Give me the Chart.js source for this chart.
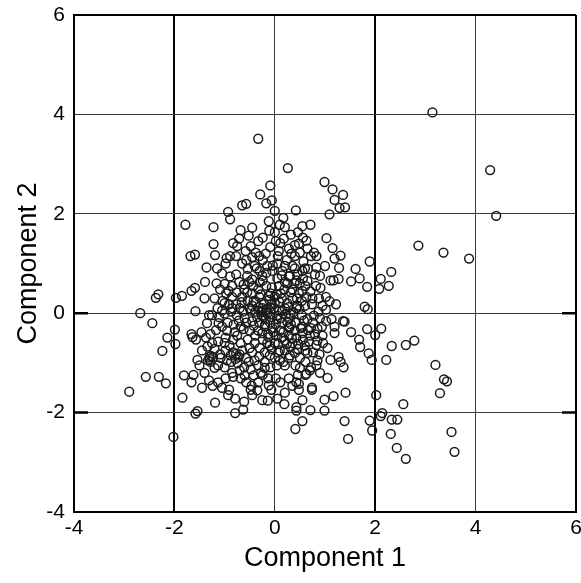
<!DOCTYPE html>
<html>
<head>
<meta charset="utf-8">
<script src="https://cdn.jsdelivr.net/npm/chart.js@4.4.1/dist/chart.umd.min.js"></script>
<style>
  html, body { margin: 0; padding: 0; background: #ffffff; }
  #wrap { width: 581px; height: 583px; overflow: hidden; }
</style>
</head>
<body>
<div id="wrap"><canvas id="scoreChart" width="595" height="583"></canvas></div>
<script>
// Axis settings
const xTicks = [-4, -2, 0, 2, 4, 6];
const yTicks = [-4, -2, 0, 2, 4, 6];
const xTitle = 'Component 1';
const yTitle = 'Component 2';

// Scores on the edge of the cloud [component 1, component 2]
const outerScores = [
    [3.14, 4.04], [-0.33, 3.51], [0.26, 2.92], [4.29, 2.88], [4.41, 1.96], [2.86, 1.36], [3.36, 1.22], [3.87, 1.10],
    [3.20, -1.04], [3.37, -1.33], [3.43, -1.37], [3.29, -1.61], [3.52, -2.39], [3.58, -2.79], [2.61, -2.93], [2.43, -2.71],
    [2.31, -2.43], [2.33, -2.14], [2.44, -2.14], [2.56, -1.83], [2.14, -2.01], [2.11, -2.07], [1.89, -2.16], [1.94, -2.36],
    [2.02, -1.65], [1.46, -2.53], [1.39, -2.17], [1.41, -1.60], [1.17, -1.67], [0.99, -1.74], [0.99, -1.96], [0.71, -1.95],
    [0.55, -2.17], [0.41, -2.33], [0.43, -1.89], [0.43, -1.96], [0.19, -1.83], [0.05, -1.72], [-0.14, -1.76], [-0.07, -1.54],
    [-0.79, -2.01], [-0.63, -1.94], [-0.61, -1.78], [-0.79, -1.72], [-0.93, -1.65], [-1.19, -1.80], [-1.58, -2.02], [-1.54, -1.97],
    [-1.84, -1.70], [-2.02, -2.49], [-2.90, -1.58], [-2.57, -1.28], [-2.31, -1.28], [-2.17, -1.41], [-1.81, -1.25], [-1.66, -1.39],
    [-1.62, -1.24], [-2.24, -0.76], [-2.14, -0.49], [-1.98, -0.62], [-1.99, -0.33], [-2.44, -0.20], [-2.68, 0.00], [-2.37, 0.31],
    [-2.32, 0.38], [-1.97, 0.31], [-1.85, 0.35], [-1.78, 1.78], [-1.68, 1.15], [-1.59, 1.18], [-1.22, 1.73], [-1.22, 1.39],
    [-1.19, 1.17], [-1.36, 0.92], [-1.39, 0.63], [-1.59, 0.51], [-1.66, 0.45], [-1.58, 0.04], [-1.31, -0.04], [-1.66, -0.42],
    [-1.64, -0.48], [-1.54, -0.94], [-1.34, -0.67], [-1.23, -0.89], [-0.93, 2.04], [-0.89, 1.89], [-0.65, 2.17], [-0.57, 2.20],
    [-0.29, 2.39], [-0.09, 2.57], [-0.17, 2.21], [-0.06, 2.27], [0.00, 2.06], [0.17, 1.92], [0.42, 2.07], [0.71, 1.78],
    [0.99, 2.64], [1.15, 2.49], [1.36, 2.38], [1.19, 2.28], [1.40, 2.13], [1.29, 2.12], [1.09, 1.99], [1.03, 1.51],
    [1.15, 1.31], [1.31, 1.16], [1.19, 1.10], [1.28, 0.91], [1.61, 0.89], [1.69, 0.70], [1.52, 0.64], [1.27, 0.69],
    [1.17, 0.66], [1.11, 0.66], [1.89, 1.04], [1.84, 0.53], [2.11, 0.69], [2.32, 0.83], [2.27, 0.55], [2.08, 0.49],
    [1.79, 0.13], [1.85, 0.08], [1.84, -0.32], [2.12, -0.31], [2.00, -0.44], [1.52, -0.38], [1.68, -0.53], [1.70, -0.68],
    [1.87, -0.81], [1.93, -0.94], [2.22, -0.94], [2.33, -0.66], [2.61, -0.64], [2.78, -0.55], [1.39, -0.17], [1.36, -0.16],
    [1.19, -0.27], [1.19, -0.40], [1.11, -0.94], [1.27, -0.88], [1.31, -0.98], [1.37, -1.09], [0.89, -0.83], [0.83, -1.05],
    [0.70, -1.15], [0.74, -1.50], [0.74, -1.54], [0.43, -1.39], [0.48, -1.42], [0.48, -1.54], [0.63, -1.22]
];

// Scores in the upper half of the dense centre
const upperCoreScores = [
    [-0.68, 1.67], [-0.52, 1.56], [-0.33, 1.45], [-0.24, 1.52], [-0.11, 1.66], [0.00, 1.63], [0.11, 1.41], [0.20, 1.73],
    [0.32, 1.58], [0.40, 1.37], [0.46, 1.63], [0.56, 1.52], [0.63, 1.46], [0.28, 1.30], [-0.09, 1.33], [-0.24, 1.07],
    [-0.31, 1.15], [-0.45, 1.13], [-0.65, 1.00], [-0.77, 1.15], [-0.89, 1.15], [-0.96, 1.11], [-0.83, 1.41], [-0.71, 1.50],
    [-0.57, 1.07], [-0.40, 0.95], [-0.54, 0.89], [-0.17, 0.81], [-0.04, 0.96], [0.06, 1.15], [0.24, 1.07], [0.40, 1.15],
    [0.50, 1.22], [0.57, 1.04], [0.72, 1.15], [0.78, 1.22], [0.83, 1.15], [0.66, 0.89], [0.80, 0.78], [0.83, 0.92],
    [0.56, 0.70], [0.43, 0.66], [0.28, 0.74], [0.14, 0.76], [0.09, 0.55], [0.20, 0.63], [0.35, 0.48], [0.48, 0.40],
    [0.61, 0.55], [0.71, 0.44], [0.91, 0.51], [1.02, 0.33], [1.09, 0.24], [1.22, 0.18], [1.02, 0.07], [0.87, 0.03],
    [0.74, 0.18], [0.63, 0.33], [0.54, 0.25], [-0.77, 0.78], [-0.89, 0.74], [-1.00, 0.59], [-1.09, 0.48], [-0.97, 0.40],
    [-0.85, 0.33], [-0.71, 0.63], [-0.61, 0.48], [-0.51, 0.63], [-0.43, 0.55], [-0.33, 0.48], [-0.24, 0.66], [-0.17, 0.55],
    [-0.08, 0.40], [0.00, 0.33], [-0.31, 0.33], [-0.42, 0.25], [-0.54, 0.25], [-0.65, 0.33], [-0.77, 0.18], [-0.91, 0.18],
    [-1.04, 0.25], [-1.14, 0.10], [-0.87, 0.03], [-0.63, 0.03], [-0.50, 0.10], [-0.39, 0.03], [-0.24, 0.10], [-0.06, 0.18],
    [0.09, 0.22], [0.20, 0.10], [0.43, 0.10], [-0.25, 0.05], [-0.10, 0.12], [0.15, 0.05], [0.00, 0.20], [0.25, 0.20],
    [0.35, 0.30], [-0.45, 0.15], [-0.70, 0.10], [0.45, 0.15], [-0.12, 0.35], [0.12, 0.40], [-0.30, 0.62], [-0.45, 0.40],
    [0.30, 0.75], [0.50, 0.60], [0.60, 0.90], [0.40, 0.90], [0.95, 0.15], [-1.00, 0.20], [-1.20, 0.30], [-0.85, 0.55],
    [-0.55, 0.75], [-0.30, 0.85], [0.05, 0.70], [0.20, 0.95]
];

// Scores in the lower half of the dense centre
const lowerCoreScores = [
    [-1.25, -0.04], [-1.11, -0.08], [-1.00, -0.01], [-0.76, -0.04], [-0.15, -0.01], [0.31, -0.01], [0.54, -0.04], [0.65, -0.12],
    [0.76, -0.19], [0.85, -0.31], [0.94, -0.27], [1.02, -0.16], [1.13, -0.12], [0.80, -0.42], [0.66, -0.34], [0.54, -0.27],
    [0.41, -0.19], [0.28, -0.27], [0.14, -0.19], [0.04, -0.12], [-0.09, -0.19], [-0.20, -0.27], [-0.31, -0.19], [-0.45, -0.16],
    [-0.57, -0.19], [-0.68, -0.27], [-0.82, -0.23], [-0.94, -0.19], [-1.05, -0.27], [-1.17, -0.34], [-1.28, -0.42], [-1.37, -0.49],
    [-1.46, -0.38], [-1.57, -0.53], [-1.13, -0.57], [-0.98, -0.49], [-0.83, -0.53], [-0.68, -0.60], [-0.54, -0.53], [-0.39, -0.45],
    [-0.24, -0.53], [-0.13, -0.42], [0.02, -0.45], [0.14, -0.49], [0.28, -0.45], [0.43, -0.49], [0.56, -0.53], [0.68, -0.57],
    [0.83, -0.64], [0.96, -0.60], [0.76, -0.79], [0.61, -0.75], [0.46, -0.72], [0.31, -0.68], [0.20, -0.75], [0.07, -0.79],
    [-0.06, -0.72], [-0.20, -0.79], [-0.31, -0.87], [-0.45, -0.79], [-0.57, -0.90], [-0.70, -0.83], [-0.83, -0.79], [-0.98, -0.75],
    [-1.09, -0.83], [-1.20, -0.72], [-1.28, -0.98], [-1.13, -1.05], [-1.00, -1.09], [-0.87, -0.98], [-0.74, -1.01], [-0.61, -1.09],
    [-0.48, -1.13], [-0.33, -1.05], [-0.20, -0.98], [-0.09, -1.09], [0.04, -1.05], [0.17, -0.98], [0.28, -0.90], [0.41, -1.05],
    [0.50, -0.90], [0.61, -0.98], [0.72, -1.09], [0.61, -1.24], [0.46, -1.24], [0.28, -1.31], [0.11, -1.39], [0.02, -1.31],
    [-0.13, -1.31], [-0.24, -1.24], [-0.33, -1.39], [-0.46, -1.46], [-0.57, -1.39], [-0.68, -1.31], [-0.83, -1.28], [-0.98, -1.31],
    [-1.13, -1.39], [-1.24, -1.46], [-1.31, -1.35], [-1.05, -1.50], [-0.91, -1.54], [-0.48, -1.54], [0.35, -1.46],
    [0.05, -0.05], [-0.35, -0.08], [-0.18, -0.12], [-0.05, -0.30], [0.10, -0.35], [0.30, -0.10], [-0.60, -0.10], [0.20, -0.55],
    [-0.15, -0.60], [-0.50, -0.35], [-0.75, -0.45], [-0.90, -0.65], [-0.65, -0.75], [0.35, -0.60], [0.55, -0.40], [0.72, -0.30],
    [0.90, -0.10], [0.40, -0.35], [-0.10, -0.85], [0.10, -0.95], [-0.40, -0.60], [-0.25, -0.40], [0.00, -0.60], [0.65, -0.80],
    [0.85, -0.95]
];

// Extra scores where the circles pile up into near-solid patches
const denseScores = [
    [-0.55, 0.42], [-0.48, 0.05], [-0.42, -0.25], [-0.38, 0.22], [-0.33, -0.35], [-0.28, 0.38], [-0.26, -0.05], [-0.22, 0.18],
    [-0.19, -0.22], [-0.16, 0.08], [-0.13, -0.48], [-0.11, 0.27], [-0.08, -0.08], [-0.06, 0.52], [-0.03, -0.38], [-0.01, 0.10],
    [0.02, -0.22], [0.04, 0.38], [0.07, -0.62], [0.09, 0.05], [0.12, -0.10], [0.14, 0.30], [0.17, -0.38], [0.19, 0.48],
    [0.22, -0.02], [0.24, -0.62], [0.27, 0.12], [0.29, -0.30], [0.32, 0.42], [0.34, -0.50], [0.37, 0.02], [0.39, 0.60],
    [0.42, -0.18], [0.44, 0.30], [0.47, -0.62], [0.49, 0.08], [0.52, -0.30], [0.55, 0.45], [0.58, -0.15], [0.60, 0.15],
    [-0.50, -0.70], [-0.45, 0.68], [-0.40, -0.95], [-0.36, 0.90], [-0.30, -0.70], [-0.25, 0.75], [-0.20, -1.10], [-0.15, 0.95],
    [-0.10, -0.65], [-0.05, 0.85], [0.00, -0.90], [0.05, 1.00], [0.10, -0.75], [0.15, 0.85], [0.20, -1.05], [0.25, 0.60],
    [0.30, -0.85], [0.35, 0.95], [0.40, -0.80], [0.45, 0.78], [0.50, -1.10], [0.55, 0.85], [0.60, -0.65], [0.65, 0.65],
    [0.70, -0.45], [0.75, 0.30], [0.78, -0.05], [0.82, 0.55], [0.85, -0.55], [0.88, 0.30], [-0.62, -0.32], [-0.66, 0.22],
    [-0.72, -0.15], [-0.76, 0.42], [-0.80, -0.38], [-0.84, 0.10], [-0.88, -0.85], [-0.92, 0.45], [-0.95, -0.35], [-1.00, -0.60],
    [-1.05, 0.05], [-1.08, -0.90], [-1.12, -0.20], [-1.16, 0.60], [-1.20, -1.10], [-1.25, -0.60], [-1.30, -0.88], [-1.35, -0.20],
    [-1.40, 0.30], [-1.45, -0.75], [-0.70, -1.15], [-0.78, -0.92], [-0.85, -1.20], [-0.95, -0.95], [-0.60, -1.25], [-0.52, -0.98],
    [-0.42, -1.25], [-0.35, -1.55], [-0.28, -1.20], [-0.12, -1.45], [-0.58, 1.25], [-0.48, 1.35], [-0.38, 1.22], [-0.18, 1.20],
    [0.08, 1.25], [0.18, 1.50], [0.33, 1.20], [0.48, 1.40], [0.65, 1.30], [0.02, 1.45], [-0.12, 1.85], [0.10, 1.78],
    [-0.45, 1.72], [0.55, 1.75], [-0.75, 1.35], [-0.62, 0.58], [-1.05, 0.80], [-0.98, 1.00], [-1.15, 0.90], [0.90, 0.75],
    [1.00, 0.95], [0.95, -0.45], [1.05, -0.70], [0.90, -1.20], [1.05, -1.30], [0.20, -1.60], [0.55, -1.75], [-0.25, -1.75],
    [-0.45, -1.65], [-1.40, -1.20], [-1.50, -1.05], [-1.45, -1.50], [-1.30, -0.92], [-1.27, -0.86], [-1.33, -0.95], [-0.77, -0.82],
    [-0.72, -0.88], [-0.28, 0.02], [-0.22, -0.08], [-0.32, 0.12], [-0.18, 0.02], [0.25, -0.18], [0.32, -0.22]
];

const toPoints = list => list.map(p => ({ x: p[0], y: p[1] }));

// Thicker grid lines in the picture
const heavyLinesX = [-2, 2, 6];
const heavyLinesY = [6];
// Short heavy marks on the frame
const frameMarks = [0, -2];

const fontFamily = '"Liberation Sans", Arial, Helvetica, sans-serif';

const frameMarksPlugin = {
    id: 'frameMarks',
    afterDraw(chart) {
        const ctx = chart.ctx;
        const area = chart.chartArea;
        const yScale = chart.scales.y;
        ctx.save();
        ctx.strokeStyle = '#000';
        ctx.lineWidth = 2.5;
        frameMarks.forEach(v => {
            const py = yScale.getPixelForValue(v);
            ctx.beginPath();
            ctx.moveTo(area.left, py);
            ctx.lineTo(area.left + 14, py);
            ctx.moveTo(area.right - 14, py);
            ctx.lineTo(area.right, py);
            ctx.stroke();
        });
        ctx.restore();
    }
};

const chartCanvas = document.getElementById('scoreChart');
new Chart(chartCanvas, {
    type: 'scatter',
    data: {
        datasets: [{
            label: 'Scores',
            data: toPoints(outerScores.concat(upperCoreScores, lowerCoreScores, denseScores)),
            pointStyle: 'circle',
            pointRadius: 4.4,
            borderWidth: 1.5,
            borderColor: '#1a1a1a',
            backgroundColor: 'rgba(0,0,0,0)'
        }]
    },
    options: {
        responsive: false,
        animation: false,
        layout: {
            padding: { top: 15, right: 19, left: 0, bottom: 0 }
        },
        plugins: {
            legend: { display: false },
            tooltip: { enabled: false }
        },
        scales: {
            x: {
                type: 'linear',
                min: -4,
                max: 6,
                afterFit: function(scale) { scale.height = 71; },
                afterBuildTicks: function(scale) { scale.ticks = xTicks.map(v => ({ value: v })); },
                ticks: {
                    color: '#000',
                    padding: 4,
                    font: { family: fontFamily, size: 21 }
                },
                grid: {
                    drawTicks: false,
                    color: ctx => heavyLinesX.includes(ctx.tick && ctx.tick.value) ? '#000' : '#3a3a3a',
                    lineWidth: ctx => heavyLinesX.includes(ctx.tick && ctx.tick.value) ? 2 : 1
                },
                border: { color: '#000', width: 2 },
                title: {
                    display: true,
                    text: xTitle,
                    color: '#000',
                    padding: { top: 0, bottom: 8 },
                    font: { family: fontFamily, size: 27 }
                }
            },
            y: {
                type: 'linear',
                min: -4,
                max: 6,
                afterFit: function(scale) {
                    scale.width = 74;
                    scale.paddingTop = 0;
                    scale.paddingBottom = 0;
                },
                afterBuildTicks: function(scale) { scale.ticks = yTicks.map(v => ({ value: v })); },
                ticks: {
                    color: '#000',
                    padding: 9,
                    font: { family: fontFamily, size: 21 }
                },
                grid: {
                    drawTicks: false,
                    color: ctx => heavyLinesY.includes(ctx.tick && ctx.tick.value) ? '#000' : '#3a3a3a',
                    lineWidth: ctx => heavyLinesY.includes(ctx.tick && ctx.tick.value) ? 2 : 1
                },
                border: { color: '#000', width: 2 },
                title: {
                    display: true,
                    text: yTitle,
                    color: '#000',
                    padding: { top: 12, bottom: 0 },
                    font: { family: fontFamily, size: 27 }
                }
            }
        }
    },
    plugins: [frameMarksPlugin]
});
</script>
</body>
</html>
